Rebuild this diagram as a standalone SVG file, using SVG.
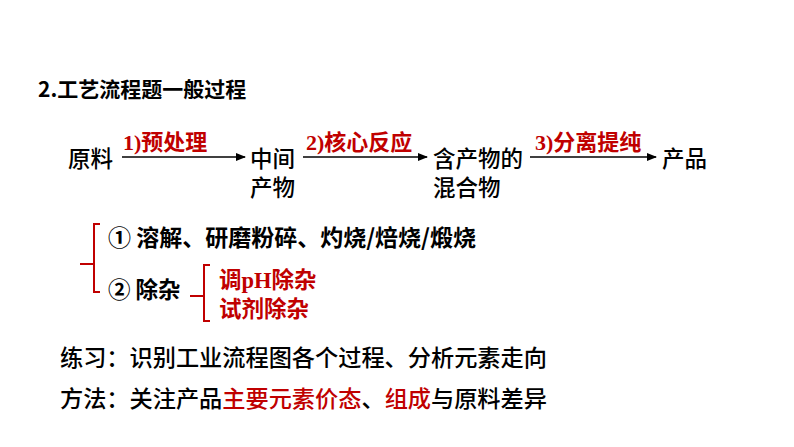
<svg xmlns="http://www.w3.org/2000/svg" width="794" height="447" viewBox="0 0 794 447">
<style>
text{font-family:"Noto Sans CJK SC","Liberation Sans",sans-serif;font-size:22.5px;font-weight:500;fill:#000}
.r{fill:#c00000}
.lb{font-family:"Liberation Serif","Noto Sans CJK SC",serif;font-weight:bold;fill:#c00000;font-size:22px}
.b{stroke:#c00000;stroke-width:2;fill:none}
.ln{stroke:#000;stroke-width:1.5}
.bt{font-size:23.2px}
</style>
<defs><marker id="ah" markerWidth="10" markerHeight="8" refX="9" refY="4" orient="auto" markerUnits="userSpaceOnUse"><path d="M0,0 L10,4 L0,8 z" fill="#000"/></marker></defs>
<rect width="794" height="447" fill="#fff"/>
<text x="38" y="97" style="font-weight:bold;font-size:21px">2.工艺流程题一般过程</text>
<g id="n1"><text x="68" y="167">原料</text></g>
<g id="n2"><text x="250" y="167">中间</text><text x="250" y="196">产物</text></g>
<g id="n3"><text x="433" y="167">含产物的</text><text x="433" y="196">混合物</text></g>
<g id="n4"><text x="662" y="167">产品</text></g>
<g id="connectors">
<line class="ln" x1="122" y1="157" x2="245" y2="157" marker-end="url(#ah)"/>
<line class="ln" x1="303" y1="157" x2="427" y2="157" marker-end="url(#ah)"/>
<line class="ln" x1="530" y1="157" x2="656" y2="157" marker-end="url(#ah)"/>
</g>
<text class="lb" x="123" y="150">1)预处理</text>
<text class="lb" x="306" y="150">2)核心反应</text>
<text class="lb" x="535" y="150">3)分离提纯</text>
<g id="brace1"><path class="b" d="M100,224 H94 V292 H100 M94,264 H80"/></g>
<g id="brace2"><path class="b" d="M210,265 H204 V321 H210 M204,296 H190"/></g>
<text x="108" y="246" style="font-weight:bold;font-size:23px">① 溶解、研磨粉碎、灼烧/焙烧/煅烧</text>
<text x="108" y="298" style="font-weight:bold">② 除杂</text>
<text class="r" x="219" y="288" style="font-weight:bold">调<tspan style="font-family:'Liberation Serif';font-weight:bold">pH</tspan>除杂</text>
<text class="r" x="219" y="317" style="font-weight:bold">试剂除杂</text>
<text class="bt" x="60" y="366">练习：识别工业流程图各个过程、分析元素走向</text>
<text class="bt" x="60" y="407">方法：关注产品<tspan class="r">主要元素价态</tspan>、<tspan class="r">组成</tspan>与原料差异</text>
</svg>
